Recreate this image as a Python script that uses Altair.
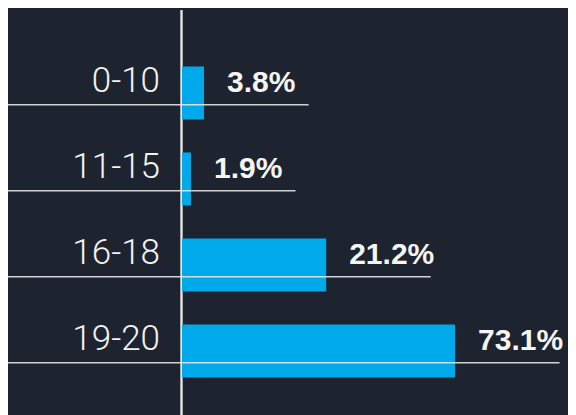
import altair as alt
import pandas as pd

# Data
categories = ["0-10", "11-15", "16-18", "19-20"]
pct_labels = ["3.8%", "1.9%", "21.2%", "73.1%"]
# drawn bar lengths (same units as the largest bar, 73.1)
bar_lengths = [5.9, 2.4, 38.6, 73.1]

df = pd.DataFrame({"cat": categories, "label": pct_labels, "bar": bar_lengths})

BG = "#1e2330"
BAR = "#00a9e9"
LINE = "#e6e6e6"

W, H = 373.5, 344
xs = alt.Scale(domain=[0, 100], range=[0, W], nice=False, zero=True)
ys = alt.Scale(domain=categories, paddingInner=0.384, paddingOuter=0.192)

base = alt.Chart(df)

bars = base.mark_bar(color=BAR, cornerRadius=0).encode(
    x=alt.X("bar:Q", scale=xs, axis=None),
    y=alt.Y("cat:N", scale=ys, axis=None, sort=categories),
)

hlines = base.transform_calculate(end="datum.bar + 28").mark_rule(
    color=LINE, strokeWidth=1.5, opacity=0.9
).encode(
    x=alt.X("end:Q", scale=xs, axis=None),
    x2=alt.value(-182),
    y=alt.Y("cat:N", scale=ys, axis=None, sort=categories, bandPosition=0.72),
)

vline = base.mark_rule(color=LINE, strokeWidth=1.5).encode(
    x=alt.value(-0.5), y=alt.value(-40), y2=alt.value(380)
)

cat_text = base.mark_text(
    align="right", baseline="alphabetic", dy=-1, font="Roboto",
    fontWeight=300, fontSize=35, color="#f2f2f2"
).encode(
    x=alt.value(-22),
    y=alt.Y("cat:N", scale=ys, axis=None, sort=categories),
    text="cat:N",
)

val_text = base.mark_text(
    align="left", baseline="alphabetic", dx=23, dy=-1, font="Liberation Sans",
    fontWeight="bold", fontSize=30, color="#f5f5f5"
).encode(
    x=alt.X("bar:Q", scale=xs, axis=None),
    y=alt.Y("cat:N", scale=ys, axis=None, sort=categories),
    text="label:N",
)

chart = alt.layer(vline, bars, hlines, cat_text, val_text).properties(
    width=W, height=H,
    background=BG,
    padding={"left": 174, "top": 42, "right": 12.5, "bottom": 21},
    autosize=alt.AutoSizeParams(type="none"),
).configure_view(stroke=None)

chart.save("out.html", embed_options={"renderer": "svg", "actions": False})
